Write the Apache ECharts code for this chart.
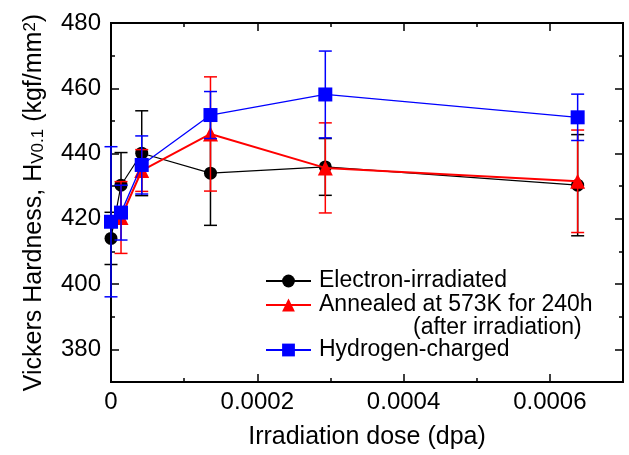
<!DOCTYPE html>
<html><head><meta charset="utf-8">
<script src="https://cdn.jsdelivr.net/npm/echarts@6/dist/echarts.min.js"></script>
<style>html,body{margin:0;padding:0;background:#fff}#c{width:629px;height:455px}</style>
</head><body><div id="c"></div>
<script>
// Irradiation dose (dpa)
const doses = [0, 1.37e-5, 4.2e-5, 1.36e-4, 2.93e-4, 6.38e-4];
const redDoses = [1.37e-5, 4.2e-5, 1.36e-4, 2.93e-4, 6.38e-4];
// Electron-irradiated
const electronVals = [414, 430.3, 440.1, 434, 435.9, 430.3];
const electronErr = [8, 10, 13, 16, 8.7, 15.5];
// Annealed at 573K for 240h (after irradiation)
const annealedVals = [420.4, 434.8, 446, 435.6, 431.5];
const annealedErr = [11, 6.4, 17.5, 13.8, 15.7];
// Hydrogen-charged
const hydrogenVals = [419.1, 421.9, 436.5, 451.8, 458.1, 451.1];
const hydrogenErr = [23, 8.4, 8.9, 7.2, 13.3, 7.1];

const FONT = 'Liberation Sans';
const names = ['Electron-irradiated', 'Annealed at 573K for 240h', 'Hydrogen-charged'];

function pts(xs, ys) { return xs.map((x, i) => [x, ys[i]]); }
function errPts(xs, ys, es) { return xs.map((x, i) => [x, ys[i] - es[i], ys[i] + es[i]]); }
function errRender(color, width) {
  return function (params, api) {
    const x = api.value(0), lo = api.value(1), hi = api.value(2);
    const p1 = api.coord([x, hi]), p2 = api.coord([x, lo]);
    const w = 6.5;
    const style = { stroke: color, lineWidth: width };
    return { type: 'group', children: [
      { type: 'line', shape: { x1: p1[0], y1: p1[1], x2: p2[0], y2: p2[1] }, style: style },
      { type: 'line', shape: { x1: p1[0] - w, y1: p1[1], x2: p1[0] + w, y2: p1[1] }, style: style },
      { type: 'line', shape: { x1: p2[0] - w, y1: p2[1], x2: p2[0] + w, y2: p2[1] }, style: style }
    ]};
  };
}

function xAx(pos, interval, len, labels) {
  return {
    type: 'value', position: pos, min: 0, max: 0.0007, interval: interval,
    axisLine: { show: len === 4, onZero: false, lineStyle: { color: '#000', width: 2 } },
    axisTick: { show: true, inside: true, length: len, lineStyle: { color: '#000', width: 1.5 } },
    splitLine: { show: false },
    axisLabel: labels ? {
      show: true, fontSize: 24, color: '#000', fontFamily: FONT, margin: 8, showMaxLabel: false,
      formatter: function (v) {
        const k = Math.round(v / 0.0001);
        if (k % 2 !== 0 || k > 6) return '';
        return k === 0 ? '0' : (k * 0.0001).toFixed(4);
      }
    } : { show: false }
  };
}
function yAx(pos, long, labels) {
  const base = long ? { inverse: true, min: 0, max: 110, interval: 20 } : { min: 370, max: 480, interval: 10 };
  return Object.assign({
    type: 'value', position: pos,
    axisLine: { show: !long, onZero: false, lineStyle: { color: '#000', width: 2 } },
    axisTick: { show: true, inside: true, length: long ? 8 : 4, lineStyle: { color: '#000', width: 1.5 } },
    splitLine: { show: false },
    axisLabel: labels ? {
      show: true, fontSize: 24, color: '#000', fontFamily: FONT, margin: 10,
      formatter: function (v) { return (Math.round(v) % 20 === 0) ? String(Math.round(v)) : ''; }
    } : { show: false }
  }, base);
}

const xAxes = [xAx('bottom', 0.0001, 4, true), xAx('bottom', 0.0002, 8, false), xAx('top', 0.0001, 4, false), xAx('top', 0.0002, 8, false)];
xAxes[0].name = 'Irradiation dose (dpa)';
xAxes[0].nameLocation = 'middle';
xAxes[0].nameGap = 43;
xAxes[0].nameTextStyle = { fontSize: 25, color: '#000', fontFamily: FONT };

const yAxes = [yAx('left', false, true), yAx('left', true, false), yAx('right', false, false), yAx('right', true, false)];
yAxes[0].name = 'Vickers Hardness, H{sub|V0.1} (kgf/mm{sup|2})';
yAxes[0].nameLocation = 'middle';
yAxes[0].nameGap = 64;
yAxes[0].nameTextStyle = {
  fontSize: 25, color: '#000', fontFamily: FONT,
  rich: {
    sub: { fontSize: 17, color: '#000', fontFamily: FONT, verticalAlign: 'bottom', lineHeight: 22 },
    sup: { fontSize: 17, color: '#000', fontFamily: FONT, verticalAlign: 'top', lineHeight: 22 }
  }
};

const legendBase = { orient: 'vertical', left: 265, itemWidth: 45, itemHeight: 16, itemGap: 0, padding: 0,
  selectedMode: false, textStyle: { fontSize: 23, lineHeight: 24, color: '#000', fontFamily: FONT, padding: [0, 0, 0, 3] } };

const chart = echarts.init(document.getElementById('c'), null, { renderer: 'canvas' });
chart.setOption({
  animation: false,
  backgroundColor: '#fff',
  textStyle: { fontFamily: FONT },
  grid: { left: 111, right: 6, top: 23, bottom: 67, show: true, borderColor: '#000', borderWidth: 2, backgroundColor: 'transparent' },
  xAxis: xAxes,
  yAxis: yAxes,
  legend: [
    Object.assign({ data: [names[0], names[1]], top: 269 }, legendBase),
    Object.assign({ data: [names[2]], top: 338 }, legendBase)
  ],
  graphic: [
    { type: 'text', left: 413, top: 316, style: { text: '(after irradiation)', font: '23px "Liberation Sans"', fill: '#000' } }
  ],
  series: [
    { type: 'custom', name: 'eErr', renderItem: errRender('#000', 1.5), data: errPts(doses, electronVals, electronErr), encode: { x: 0, y: [1, 2] }, z: 2 },
    { type: 'line', name: names[0], data: pts(doses, electronVals), symbol: 'circle', symbolSize: 13,
      itemStyle: { color: '#000' }, lineStyle: { color: '#000', width: 1.2 }, z: 3 },
    { type: 'custom', name: 'aErr', renderItem: errRender('#ff0000', 1.5), data: errPts(redDoses, annealedVals, annealedErr), encode: { x: 0, y: [1, 2] }, z: 4 },
    { type: 'line', name: names[1], data: pts(redDoses, annealedVals), symbol: 'triangle', symbolSize: 15,
      itemStyle: { color: '#ff0000' }, lineStyle: { color: '#ff0000', width: 2 }, z: 5 },
    { type: 'custom', name: 'hErr', renderItem: errRender('#0000ff', 1.5), data: errPts(doses, hydrogenVals, hydrogenErr), encode: { x: 0, y: [1, 2] }, z: 6 },
    { type: 'line', name: names[2], data: pts(doses, hydrogenVals), symbol: 'rect', symbolSize: 14,
      itemStyle: { color: '#0000ff' }, lineStyle: { color: '#0000ff', width: 1.3 }, z: 7 }
  ]
});
</script>
</body></html>
